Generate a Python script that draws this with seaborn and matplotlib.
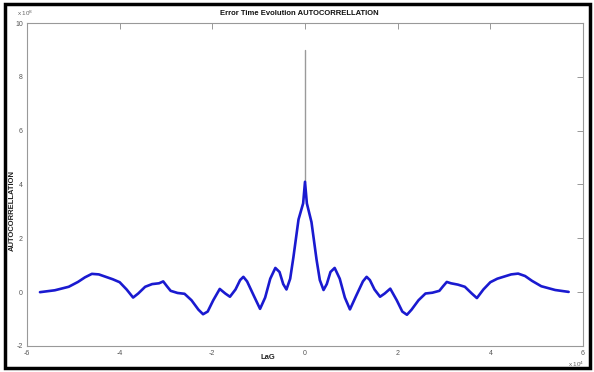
import matplotlib
matplotlib.use("Agg")
import matplotlib.pyplot as plt
import seaborn as sns
import pandas as pd
from matplotlib.patches import Rectangle

# Lag in units of 1e4, autocorrelation in units of 1e8
lag_left = [-5.72, -5.4, -5.1, -4.9, -4.75, -4.6, -4.45, -4.3, -4.15, -4.0, -3.85, -3.71,
            -3.6, -3.45, -3.3, -3.15, -3.06, -2.98, -2.9, -2.75, -2.6, -2.45, -2.3,
            -2.2, -2.1, -1.98, -1.84, -1.72, -1.62, -1.5, -1.4, -1.33, -1.25, -1.1,
            -0.97, -0.86, -0.75, -0.64, -0.55, -0.47, -0.40, -0.32, -0.25, -0.14,
            -0.04, 0.0]
acf_left = [0.0, 0.07, 0.2, 0.38, 0.55, 0.68, 0.66, 0.57, 0.48, 0.37, 0.1, -0.2,
            -0.05, 0.2, 0.3, 0.33, 0.40, 0.22, 0.05, -0.03, -0.06, -0.3, -0.65,
            -0.82, -0.72, -0.3, 0.12, -0.05, -0.17, 0.1, 0.45, 0.57, 0.4, -0.15,
            -0.62, -0.2, 0.5, 0.9, 0.75, 0.3, 0.1, 0.5, 1.3, 2.7, 3.3, 4.1]
lag_right = [0.04, 0.14, 0.25, 0.32, 0.40, 0.47, 0.55, 0.64, 0.75, 0.86, 0.97, 1.1,
             1.25, 1.33, 1.4, 1.5, 1.62, 1.72, 1.84, 1.98, 2.1, 2.2, 2.3, 2.45, 2.6,
             2.75, 2.9, 2.98, 3.06, 3.15, 3.3, 3.45, 3.6, 3.71, 3.85, 4.0, 4.15, 4.3,
             4.45, 4.6, 4.75, 4.9, 5.1, 5.4, 5.69]
acf_right = [3.3, 2.6, 1.2, 0.45, 0.08, 0.3, 0.75, 0.9, 0.5, -0.2, -0.64, -0.15,
             0.4, 0.57, 0.45, 0.1, -0.17, -0.05, 0.13, -0.3, -0.72, -0.84, -0.65,
             -0.3, -0.05, -0.02, 0.05, 0.22, 0.38, 0.33, 0.28, 0.2, -0.05, -0.22,
             0.1, 0.37, 0.5, 0.58, 0.66, 0.69, 0.6, 0.42, 0.22, 0.08, 0.01]
spike_lag = [0.0, 0.0]
spike_val = [4.1, 9.0]

xticks = [-6, -4, -2, 0, 2, 4, 6]
yticks = [-2, 0, 2, 4, 6, 8, 10]

df = pd.DataFrame({"lag": lag_left + lag_right, "acf": acf_left + acf_right})
spike = pd.DataFrame({"lag": spike_lag, "acf": spike_val})

sns.set_style("white")
plt.rcParams["font.family"] = ["Liberation Sans", "DejaVu Sans"]

fig = plt.figure(figsize=(5.94, 3.72), dpi=100)
ax = fig.add_axes([27 / 594, 1 - 346 / 372, (583 - 27) / 594, (346 - 23) / 372])

sns.lineplot(data=spike, x="lag", y="acf", ax=ax, color="#9a9a9a", lw=1.0,
             estimator=None, sort=False)
sns.lineplot(data=df, x="lag", y="acf", ax=ax, color="#1a1ad0", lw=1.9,
             estimator=None, sort=False)

ax.set_xlim(-6, 6)
ax.set_ylim(-2, 10)
ax.set_xticks(xticks)
ax.set_yticks(yticks)
ax.set_xticklabels([str(t) for t in xticks])
ax.set_yticklabels([str(t) for t in yticks])
ax.tick_params(direction="in", length=4, width=0.6, color="#888888",
               labelsize=5, labelcolor="#555555", top=True, right=True, pad=3)
for s in ax.spines.values():
    s.set_color("#999999")
    s.set_linewidth(0.8)

ax.set_xlabel("LaG", fontsize=5.5, fontweight="bold", color="#222222")
ax.xaxis.set_label_coords(0.433, -0.025)
ax.set_ylabel("AUTOCORRELLATION", fontsize=5.5, fontweight="bold", color="#222222")
ax.yaxis.set_label_coords(-0.021, 0.42)
ax.set_title("Error Time Evolution AUTOCORRELLATION", fontsize=5.5, fontweight="bold",
             color="#111111", x=0.49, pad=6)

fig.text(17 / 594, 1 - 13 / 372, r"x 10$^8$", fontsize=4.5, color="#666666",
         ha="left", va="center")
fig.text(568 / 594, 1 - 364 / 372, r"x 10$^4$", fontsize=4.5, color="#666666",
         ha="left", va="center")

fig.patches.append(Rectangle((5 / 594, 4 / 372), 585 / 594, 364 / 372,
                             transform=fig.transFigure, fill=False,
                             edgecolor="black", linewidth=2.5))

fig.savefig("out.png", dpi=100)
